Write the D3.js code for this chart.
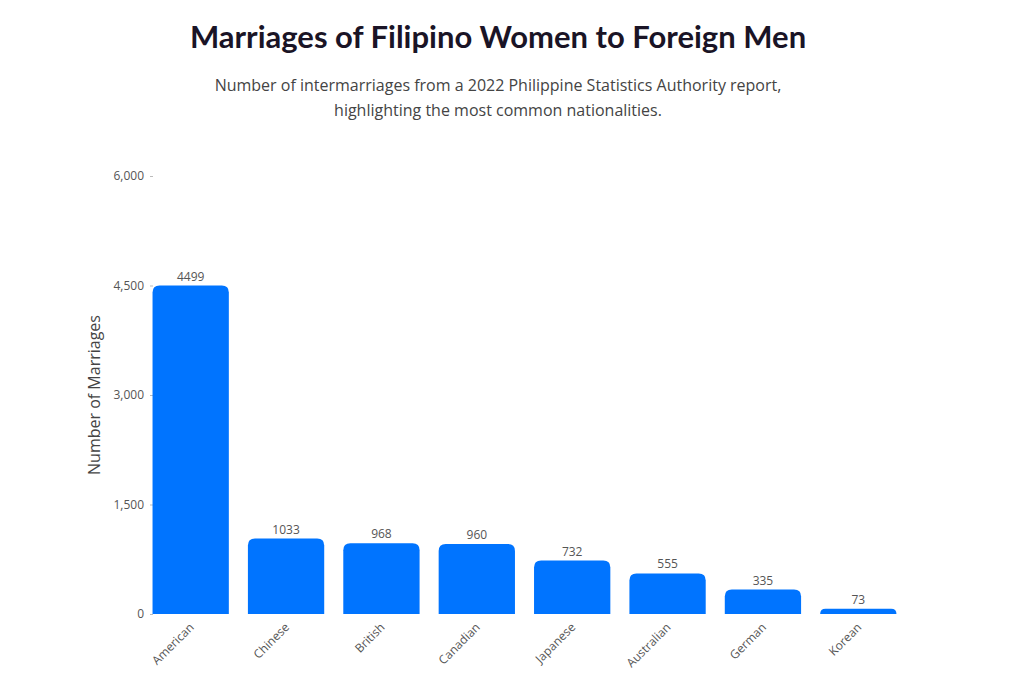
<!DOCTYPE html>
<html><head><meta charset="utf-8">
<script src="https://cdn.jsdelivr.net/npm/d3@7"></script>
<style>body{margin:0;background:#fff}svg{display:block}text{font-family:"Open Sans","Noto Sans",sans-serif}</style>
</head><body><svg id="c" width="1024" height="682"></svg>
<script>
const categories = ["American","Chinese","British","Canadian","Japanese","Australian","German","Korean"];
const marriages = [4499,1033,968,960,732,555,335,73];
const yTicks = [0,1500,3000,4500,6000];

const svg = d3.select("#c");
const x = d3.scaleBand().domain(categories).range([143,906]).paddingInner(0.2).paddingOuter(0.1);
const y = d3.scaleLinear().domain([0,6000]).range([614,176]);

svg.append("text").attr("x",498).attr("y",48).attr("text-anchor","middle")
  .attr("font-size",31).attr("font-weight",700).attr("fill","#1a1426")
  .style("font-family","Lato,'Noto Sans',sans-serif").text("Marriages of Filipino Women to Foreign Men");
svg.append("text").attr("x",498).attr("y",91).attr("text-anchor","middle").attr("font-size",16).attr("fill","#444")
  .text("Number of intermarriages from a 2022 Philippine Statistics Authority report,");
svg.append("text").attr("x",498).attr("y",116).attr("text-anchor","middle").attr("font-size",16).attr("fill","#444")
  .text("highlighting the most common nationalities.");

const ya = svg.append("g").attr("transform","translate(153,0)")
  .call(d3.axisLeft(y).tickValues(yTicks).tickSize(3).tickPadding(6));
ya.select(".domain").remove();
ya.selectAll("line").attr("stroke","#bbb");
ya.selectAll("text").attr("font-size",12).attr("fill","#555");

svg.append("text").attr("transform","translate(100,395) rotate(-90)").attr("text-anchor","middle")
  .attr("font-size",16).attr("fill","#444").text("Number of Marriages");

const r = 7;
svg.selectAll("path.bar").data(categories).join("path").attr("class","bar").attr("fill","#0074FF")
  .attr("d",(c,i)=>{
    const x0=x(c), w=x.bandwidth(), y0=y(marriages[i]), yb=y(0);
    const rr=Math.min(r,(yb-y0));
    return `M${x0},${yb}V${y0+rr}Q${x0},${y0} ${x0+rr},${y0}H${x0+w-rr}Q${x0+w},${y0} ${x0+w},${y0+rr}V${yb}Z`;
  });

svg.selectAll("text.val").data(categories).join("text").attr("class","val")
  .attr("x",c=>x(c)+x.bandwidth()/2).attr("y",(c,i)=>y(marriages[i])-5)
  .attr("text-anchor","middle").attr("font-size",12).attr("fill","#555").text((c,i)=>marriages[i]);

const xa = svg.append("g").attr("transform","translate(0,614)").call(d3.axisBottom(x).tickSize(0).tickPadding(0));
xa.select(".domain").remove();
xa.selectAll("text").attr("font-size",12).attr("fill","#555")
  .attr("text-anchor","end").attr("dy","0").attr("transform","translate(4,14) rotate(-45)");
</script></body></html>
